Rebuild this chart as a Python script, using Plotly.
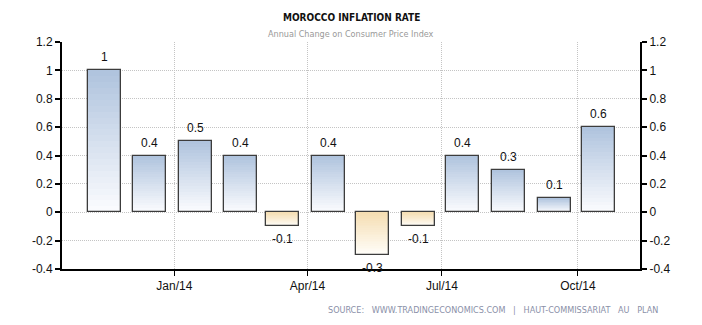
import plotly.graph_objects as go

months = ["2013-11-15", "2013-12-15", "2014-01-15", "2014-02-15", "2014-03-15", "2014-04-15",
          "2014-05-15", "2014-06-15", "2014-07-15", "2014-08-15", "2014-09-15", "2014-10-15"]
values = [1, 0.4, 0.5, 0.4, -0.1, 0.4, -0.3, -0.1, 0.4, 0.3, 0.1, 0.6]
labels = ["1", "0.4", "0.5", "0.4", "-0.1", "0.4", "-0.3", "-0.1", "0.4", "0.3", "0.1", "0.6"]
tick_vals = ["2014-01-01", "2014-04-01", "2014-07-01", "2014-10-01"]
tick_text = ["Jan/14", "Apr/14", "Jul/14", "Oct/14"]
y_ticks = [-0.4, -0.2, 0, 0.2, 0.4, 0.6, 0.8, 1, 1.2]
y_text = ["-0.4", "-0.2", "0", "0.2", "0.4", "0.6", "0.8", "1", "1.2"]

BAR_W = 22.3 * 86400000

def lerp(c1, c2, t):
    return "rgb(%d,%d,%d)" % tuple(round(a + (b - a) * t) for a, b in zip(c1, c2))

pos_top, pos_bot = (176, 196, 222), (250, 251, 254)
neg_top, neg_bot = (245, 222, 179), (255, 253, 248)

fig = go.Figure()
N = 24
for k in range(N):
    t = k / (N - 1)
    bases = [v * k / N for v in values]
    heights = [v - b for v, b in zip(values, bases)]
    colors = [lerp(pos_bot, pos_top, t) if v >= 0 else lerp(neg_top, neg_bot, t) for v in values]
    fig.add_trace(go.Bar(x=months, y=heights, base=bases, width=BAR_W,
                         marker=dict(color=colors, line=dict(width=0)),
                         hoverinfo="skip", showlegend=False))

fig.add_trace(go.Bar(x=months, y=values, width=BAR_W, yaxis="y2",
                     marker=dict(color="rgba(0,0,0,0)", line=dict(color="#3c3c3c", width=1.3)),
                     showlegend=False))

for m, v, lab in zip(months, values, labels):
    fig.add_annotation(x=m, y=v, text=lab, showarrow=False,
                       yshift=13 if v >= 0 else -13,
                       font=dict(family="Liberation Sans, Arial", size=12, color="#111"))

axis_common = dict(range=[-0.4, 1.2], tickvals=y_ticks, ticktext=y_text,
                   ticks="outside", ticklen=5, tickwidth=1.5, tickcolor="#000",
                   showline=True, linecolor="#000", linewidth=2,
                   tickfont=dict(family="Liberation Sans, Arial", size=12, color="#111"),
                   zeroline=False)

fig.update_layout(
    width=702, height=325,
    margin=dict(l=62, r=62, t=42, b=56),
    paper_bgcolor="white", plot_bgcolor="white",
    barmode="overlay", bargap=0,
    xaxis=dict(type="date", range=["2013-10-17", "2014-11-12"],
               tickvals=tick_vals, ticktext=tick_text,
               ticks="outside", ticklen=5, tickwidth=1, tickcolor="#000",
               showline=True, linecolor="#000", linewidth=2,
               showgrid=True, gridcolor="#c4c4c4", griddash="1px,1px", gridwidth=1,
               tickfont=dict(family="Liberation Sans, Arial", size=12, color="#111")),
    yaxis=dict(**axis_common, side="left", showgrid=True, gridcolor="#c4c4c4",
               griddash="1px,1px", gridwidth=1),
    yaxis2=dict(**axis_common, side="right", overlaying="y", matches="y", showgrid=False),
)

fig.add_annotation(text="<b>MOROCCO INFLATION RATE</b>", xref="paper", yref="paper",
                   x=0.5, y=1, yshift=25, showarrow=False, yanchor="middle",
                   font=dict(family="DejaVu Sans Condensed, DejaVu Sans", size=10, color="#111"))
fig.add_annotation(text="Annual Change on Consumer Price Index", xref="paper", yref="paper",
                   x=0.5, y=1, yshift=8, showarrow=False, yanchor="middle",
                   font=dict(family="DejaVu Sans Condensed, DejaVu Sans", size=9, color="#999"))
fig.add_annotation(text="SOURCE:   WWW.TRADINGECONOMICS.COM   |   HAUT-COMMISSARIAT   AU   PLAN",
                   xref="paper", yref="paper", x=1.035, y=0, yshift=-41, xanchor="right",
                   showarrow=False, yanchor="middle",
                   font=dict(family="DejaVu Sans Condensed, DejaVu Sans", size=9, color="#8a8fa8"))

fig.write_html("out.html")
